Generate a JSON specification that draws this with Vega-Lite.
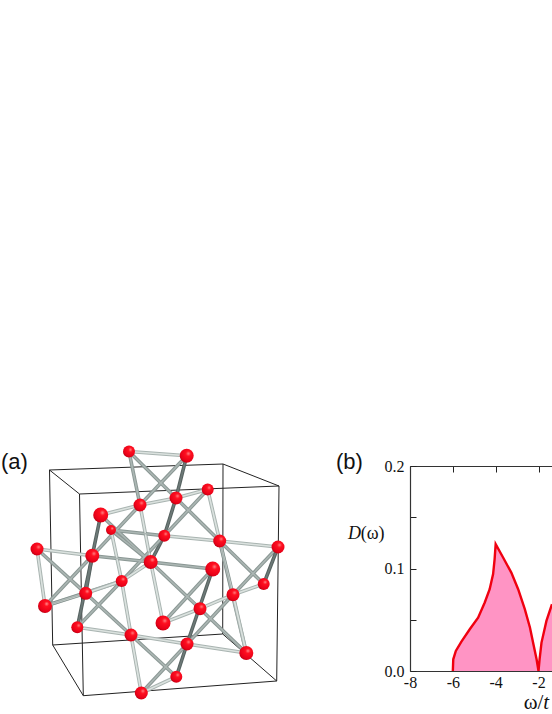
{"$schema":"https://vega.github.io/schema/vega-lite/v6.json","background":"white","padding":{"left":1,"top":445,"right":0,"bottom":0},"spacing":0,"bounds":"flush","config":{"view":{"stroke":null}},
"datasets":{
"nodes":[
{"id":"n1","x":129,"y":452.5,"r":6},{"id":"n2","x":186.7,"y":456.7,"r":7},{"id":"n3","x":140,"y":506,"r":6.5},{"id":"n4","x":100.7,"y":516,"r":7.5},{"id":"n5","x":111,"y":531,"r":5},{"id":"n6","x":37,"y":550,"r":6.5},{"id":"n7","x":92.3,"y":556.7,"r":7},{"id":"n8","x":150.7,"y":563,"r":7},{"id":"n9","x":176,"y":499,"r":6.5},{"id":"n10","x":207.7,"y":490.5,"r":6},{"id":"n11","x":164.3,"y":536.7,"r":6},{"id":"n12","x":219.7,"y":542,"r":6.5},{"id":"n13","x":278,"y":548,"r":6.5},{"id":"n14","x":212.7,"y":570,"r":7.5},{"id":"n15","x":45,"y":607,"r":7},{"id":"n16","x":85.7,"y":594.3,"r":6.5},{"id":"n17","x":121.7,"y":582,"r":6},{"id":"n18","x":77.3,"y":628.3,"r":6},{"id":"n19","x":131,"y":636,"r":6.5},{"id":"n20","x":141.3,"y":694,"r":6.5},{"id":"n21","x":163,"y":624,"r":7.5},{"id":"n22","x":200,"y":609.7,"r":6.5},{"id":"n23","x":233,"y":595.7,"r":6.5},{"id":"n24","x":263.7,"y":585,"r":6},{"id":"n25","x":187,"y":645,"r":6.5},{"id":"n26","x":246.3,"y":654,"r":7},{"id":"n27","x":176.3,"y":677.7,"r":6}],
"edges":[
{"a":"n1","b":"n2","k":"light"},{"a":"n1","b":"n3","k":"mid"},{"a":"n1","b":"n9","k":"mid"},{"a":"n2","b":"n9","k":"dark"},{"a":"n2","b":"n3","k":"mid"},{"a":"n3","b":"n7","k":"mid"},{"a":"n4","b":"n3","k":"light"},{"a":"n4","b":"n7","k":"dark"},{"a":"n4","b":"n8","k":"mid"},{"a":"n3","b":"n8","k":"light"},{"a":"n3","b":"n9","k":"light"},{"a":"n5","b":"n11","k":"mid"},{"a":"n5","b":"n8","k":"mid"},{"a":"n5","b":"n17","k":"light"},{"a":"n6","b":"n7","k":"light"},{"a":"n6","b":"n15","k":"light"},{"a":"n6","b":"n16","k":"mid"},{"a":"n7","b":"n8","k":"mid"},{"a":"n7","b":"n16","k":"dark"},{"a":"n7","b":"n18","k":"dark"},{"a":"n7","b":"n15","k":"mid"},{"a":"n8","b":"n14","k":"mid"},{"a":"n8","b":"n17","k":"light"},{"a":"n8","b":"n21","k":"light"},{"a":"n8","b":"n22","k":"mid"},{"a":"n9","b":"n11","k":"dark"},{"a":"n11","b":"n8","k":"dark"},{"a":"n9","b":"n10","k":"light"},{"a":"n9","b":"n12","k":"mid"},{"a":"n10","b":"n11","k":"mid"},{"a":"n10","b":"n12","k":"light"},{"a":"n11","b":"n12","k":"light"},{"a":"n11","b":"n17","k":"mid"},{"a":"n12","b":"n13","k":"light"},{"a":"n12","b":"n23","k":"light"},{"a":"n12","b":"n26","k":"mid"},{"a":"n12","b":"n24","k":"mid"},{"a":"n13","b":"n23","k":"mid"},{"a":"n13","b":"n24","k":"dark"},{"a":"n23","b":"n24","k":"light"},{"a":"n14","b":"n21","k":"mid"},{"a":"n14","b":"n25","k":"dark"},{"a":"n21","b":"n22","k":"light"},{"a":"n22","b":"n23","k":"light"},{"a":"n22","b":"n26","k":"mid"},{"a":"n23","b":"n26","k":"light"},{"a":"n23","b":"n25","k":"mid"},{"a":"n19","b":"n25","k":"light"},{"a":"n25","b":"n26","k":"light"},{"a":"n25","b":"n27","k":"dark"},{"a":"n25","b":"n20","k":"mid"},{"a":"n27","b":"n20","k":"light"},{"a":"n19","b":"n20","k":"light"},{"a":"n19","b":"n27","k":"mid"},{"a":"n15","b":"n16","k":"light"},{"a":"n15","b":"n17","k":"mid"},{"a":"n16","b":"n17","k":"light"},{"a":"n16","b":"n19","k":"mid"},{"a":"n17","b":"n18","k":"mid"},{"a":"n18","b":"n19","k":"light"},{"a":"n17","b":"n19","k":"light"}],
"box":[
{"x1":49.5,"y1":471,"x2":79.5,"y2":495},{"x1":49.5,"y1":471,"x2":223,"y2":465},{"x1":79.5,"y1":495,"x2":279,"y2":487},{"x1":223,"y1":465,"x2":279,"y2":487},{"x1":49.5,"y1":471,"x2":52.7,"y2":646},{"x1":79.5,"y1":495,"x2":83.3,"y2":696.7},{"x1":223,"y1":465,"x2":222.7,"y2":635},{"x1":279,"y1":487,"x2":276.7,"y2":682},{"x1":52.7,"y1":646,"x2":83.3,"y2":696.7},{"x1":83.3,"y1":696.7,"x2":276.7,"y2":682},{"x1":222.7,"y1":635,"x2":276.7,"y2":682},{"x1":52.7,"y1":646,"x2":222.7,"y2":635}],
"dos":[
{"w":-6,"d":0},{"w":-5.98,"d":0.0114},{"w":-5.86,"d":0.0196},{"w":-5.6,"d":0.0287},{"w":-5.21,"d":0.0407},{"w":-4.82,"d":0.052},{"w":-4.51,"d":0.0668},{"w":-4.28,"d":0.0798},{"w":-4.12,"d":0.0945},{"w":-4.05,"d":0.109},{"w":-4,"d":0.1238},{"w":-3.66,"d":0.111},{"w":-3.27,"d":0.096},{"w":-2.95,"d":0.0798},{"w":-2.64,"d":0.0603},{"w":-2.4,"d":0.0424},{"w":-2.22,"d":0.0244},{"w":-2.09,"d":0.0114},{"w":-2,"d":0},{"w":-1.95,"d":0.0114},{"w":-1.86,"d":0.0277},{"w":-1.63,"d":0.0489},{"w":-1.37,"d":0.0652}]
},
"hconcat":[
{"width":409,"height":205,
"layer":[
{"data":{"name":"box"},"mark":{"type":"rule","stroke":"#222222","strokeWidth":1},"encoding":{"x":{"field":"x1","type":"quantitative","scale":{"domain":[1,410],"nice":false,"zero":false},"axis":null},"y":{"field":"y1","type":"quantitative","scale":{"domain":[672,467],"nice":false,"zero":false},"axis":null},"x2":{"field":"x2"},"y2":{"field":"y2"}}},
{"data":{"name":"edges"},"transform":[{"lookup":"a","from":{"data":{"name":"nodes"},"key":"id","fields":["x","y"]},"as":["xa","ya"]},{"lookup":"b","from":{"data":{"name":"nodes"},"key":"id","fields":["x","y"]},"as":["xb","yb"]}],"mark":{"type":"rule","strokeWidth":3.6},"encoding":{"x":{"field":"xa","type":"quantitative"},"y":{"field":"ya","type":"quantitative"},"x2":{"field":"xb"},"y2":{"field":"yb"},"color":{"field":"k","type":"nominal","scale":{"domain":["light","mid","dark"],"range":["#a9b4b1","#8a9794","#566260"]},"legend":null}}},
{"data":{"name":"edges"},"transform":[{"lookup":"a","from":{"data":{"name":"nodes"},"key":"id","fields":["x","y"]},"as":["xa","ya"]},{"lookup":"b","from":{"data":{"name":"nodes"},"key":"id","fields":["x","y"]},"as":["xb","yb"]}],"mark":{"type":"rule","strokeWidth":1.6},"encoding":{"x":{"field":"xa","type":"quantitative"},"y":{"field":"ya","type":"quantitative"},"x2":{"field":"xb"},"y2":{"field":"yb"},"stroke":{"field":"k","type":"nominal","scale":{"domain":["light","mid","dark"],"range":["#dbe2df","#abb6b3","#6d7977"]},"legend":null}}},
{"data":{"name":"nodes"},"mark":{"type":"point","shape":"circle","filled":true,"opacity":1,"strokeWidth":0,"fill":{"gradient":"radial","x1":0.62,"y1":0.35,"x2":0.62,"y2":0.35,"r1":0,"r2":0.7,"stops":[{"offset":0,"color":"#ff8a8a"},{"offset":0.25,"color":"#ff1020"},{"offset":0.8,"color":"#e80018"},{"offset":1,"color":"#b00010"}]}},"encoding":{"x":{"field":"x","type":"quantitative"},"y":{"field":"y","type":"quantitative"},"size":{"field":"r","type":"quantitative","scale":{"type":"pow","exponent":2,"domain":[0,8],"range":[0,256]},"legend":null}}},
{"data":{"values":[{"t":"(a)","x":1,"y":463},{"t":"(b)","x":336,"y":463}]},"mark":{"type":"text","font":"Liberation Sans","fontSize":22,"align":"left","baseline":"middle","color":"#111111"},"encoding":{"x":{"field":"x","type":"quantitative"},"y":{"field":"y","type":"quantitative"},"text":{"field":"t"}}}
]},
{"width":142,"height":205,"resolve":{"axis":{"x":"independent"}},
"layer":[
{"data":{"name":"dos"},"mark":{"type":"area","color":"#ff94c4","clip":true},"encoding":{"x":{"field":"w","type":"quantitative","scale":{"domain":[-8,-1.37],"nice":false,"zero":false},"axis":{"orient":"bottom","values":[-8,-6,-4,-2],"labelExpr":"''+datum.value","tickSize":-6,"tickColor":"#222222","domainColor":"#333333","domainWidth":1.2,"tickWidth":1,"labelFont":"Liberation Serif","labelFontSize":16,"labelColor":"#111111","labelPadding":9,"labelFlush":false,"title":null,"grid":false}},"y":{"field":"d","type":"quantitative","scale":{"domain":[0,0.2],"nice":false,"zero":false},"axis":{"values":[0,0.05,0.1,0.15,0.2],"labelExpr":"datum.value==0.05||datum.value==0.15?'':format(datum.value,'.1f')","tickSize":-6,"tickColor":"#222222","domainColor":"#333333","domainWidth":1.2,"tickWidth":1,"labelFont":"Liberation Serif","labelFontSize":16,"labelColor":"#111111","labelPadding":12,"title":null,"grid":false}}}},
{"data":{"name":"dos"},"mark":{"type":"line","color":"#f00010","strokeWidth":2.4,"clip":true},"encoding":{"x":{"field":"w","type":"quantitative","axis":{"orient":"top","values":[-8,-6,-4,-2],"labels":false,"tickSize":-6,"tickColor":"#222222","domainColor":"#333333","domainWidth":1.2,"tickWidth":1,"title":null,"grid":false}},"y":{"field":"d","type":"quantitative"}}},
{"data":{"values":[{"t":"D","w":-10.9,"d":0.1336}]},"mark":{"type":"text","font":"Liberation Serif","fontStyle":"italic","fontSize":18,"align":"left","baseline":"middle","color":"#111111"},"encoding":{"x":{"field":"w","type":"quantitative","axis":null},"y":{"field":"d","type":"quantitative"},"text":{"field":"t"}}},
{"data":{"values":[{"t":"t","w":-1.78,"d":-0.031}]},"mark":{"type":"text","font":"Liberation Serif","fontStyle":"italic","fontSize":21,"align":"left","baseline":"middle","color":"#111111"},"encoding":{"x":{"field":"w","type":"quantitative","axis":null},"y":{"field":"d","type":"quantitative"},"text":{"field":"t"}}},
{"data":{"values":[{"t":"(ω)","w":-10.3,"d":0.1336}]},"mark":{"type":"text","font":"Liberation Serif","fontSize":18,"align":"left","baseline":"middle","color":"#111111"},"encoding":{"x":{"field":"w","type":"quantitative","axis":null},"y":{"field":"d","type":"quantitative"},"text":{"field":"t"}}},
{"data":{"values":[{"t":"ω/","w":-2.69,"d":-0.031}]},"mark":{"type":"text","font":"Liberation Serif","fontSize":21,"align":"left","baseline":"middle","color":"#111111"},"encoding":{"x":{"field":"w","type":"quantitative","axis":null},"y":{"field":"d","type":"quantitative"},"text":{"field":"t"}}}
]}
]}
